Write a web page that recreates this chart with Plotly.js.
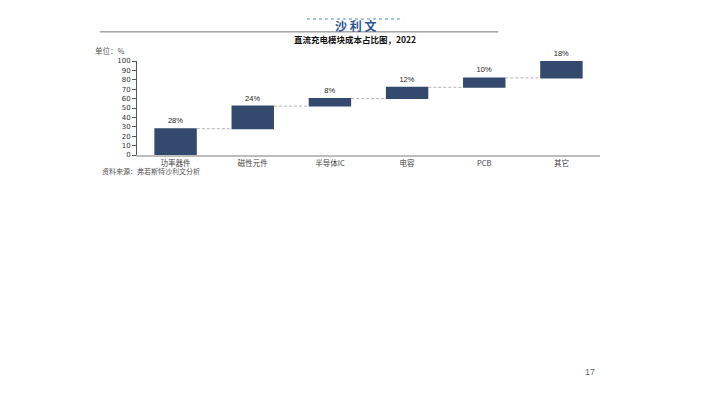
<!DOCTYPE html>
<html>
<head>
<meta charset="utf-8">
<script src="https://cdn.plot.ly/plotly-3.0.1.min.js"></script>
<style>html,body{margin:0;padding:0;background:#fff;}#chart{width:710px;height:399px;}</style>
</head>
<body>
<div id="chart"></div>
<script>
const categories = ["功率器件", "磁性元件", "半导体IC", "电容", "PCB", "其它"];
const shares = [28, 24, 8, 12, 10, 18];
const shareLabels = ["28%", "24%", "8%", "12%", "10%", "18%"];
const yTicks = [0, 10, 20, 30, 40, 50, 60, 70, 80, 90, 100];

const cjk = '"Noto Sans CJK SC", "Liberation Sans", sans-serif';
const barColor = '#33496d';

const trace = {
  type: 'waterfall',
  x: categories,
  y: shares,
  measure: shares.map(() => 'relative'),
  text: shareLabels,
  textposition: 'outside',
  textfont: {family: '"Liberation Sans", sans-serif', size: 7.5, color: '#222222'},
  outsidetextfont: {family: '"Liberation Sans", sans-serif', size: 7.5, color: '#222222'},
  cliponaxis: false,
  increasing: {marker: {color: barColor}},
  decreasing: {marker: {color: barColor}},
  connector: {line: {color: '#b5b5b5', width: 1, dash: '3px,2px'}, mode: 'between'},
  hoverinfo: 'skip'
};

// paper coords: x px = 137 + x*463 ; y px = 155 - y*94
const layout = {
  width: 710, height: 399,
  margin: {l: 137, r: 110, t: 61, b: 244},
  paper_bgcolor: '#fff', plot_bgcolor: '#fff',
  showlegend: false,
  waterfallgap: 0.45,
  font: {family: cjk, size: 8, color: '#333'},
  xaxis: {
    type: 'category',
    showgrid: false, zeroline: false,
    showline: true, linecolor: '#bdbdbd', linewidth: 1.5,
    ticks: '', tickfont: {family: cjk, size: 7.5, color: '#444'},
    fixedrange: true
  },
  yaxis: {
    range: [0, 100],
    tickvals: yTicks,
    ticktext: yTicks.map(String),
    showgrid: false, zeroline: false,
    showline: true, linecolor: '#555', linewidth: 1,
    ticks: 'outside', ticklen: 4, tickcolor: '#555',
    tickfont: {family: '"DejaVu Sans", sans-serif', size: 7, color: '#333'},
    fixedrange: true
  },
  shapes: [
    {type: 'line', xref: 'paper', yref: 'paper', x0: -0.08, x1: 0.78, y0: 1.31, y1: 1.31,
     line: {color: '#777', width: 1}},
    {type: 'line', xref: 'paper', yref: 'paper', x0: 0.367, x1: 0.575, y0: 1.446, y1: 1.446,
     line: {color: '#8fb3d9', width: 1.5, dash: 'dot'}}
  ],
  annotations: [
    {text: '<b>沙 利 文</b>', xref: 'paper', yref: 'paper', x: 0.471, y: 1.38, yanchor: 'middle',
     showarrow: false, font: {family: cjk, size: 12, color: '#2f5597'}},
    {text: '<b>直流充电模块成本占比图，2022</b>', xref: 'paper', yref: 'paper', x: 0.471, y: 1.23, yanchor: 'middle',
     showarrow: false, font: {family: cjk, size: 8.5, color: '#111'}},
    {text: '单位：%', xref: 'paper', yref: 'paper', x: -0.058, y: 1.117, xanchor: 'center', yanchor: 'middle',
     showarrow: false, font: {family: cjk, size: 7.5, color: '#555'}},
    {text: '资料来源：弗若斯特沙利文分析', xref: 'paper', yref: 'paper', x: -0.08, y: -0.17,
     xanchor: 'left', yanchor: 'middle', showarrow: false, font: {family: cjk, size: 7, color: '#555'}},
    {text: '17', xref: 'paper', yref: 'paper', x: 0.978, y: -2.31, xanchor: 'center', yanchor: 'middle',
     showarrow: false, font: {family: '"Liberation Sans", sans-serif', size: 9, color: '#666'}}
  ]
};

Plotly.newPlot('chart', [trace], layout, {displayModeBar: false, staticPlot: true});
</script>
</body>
</html>
